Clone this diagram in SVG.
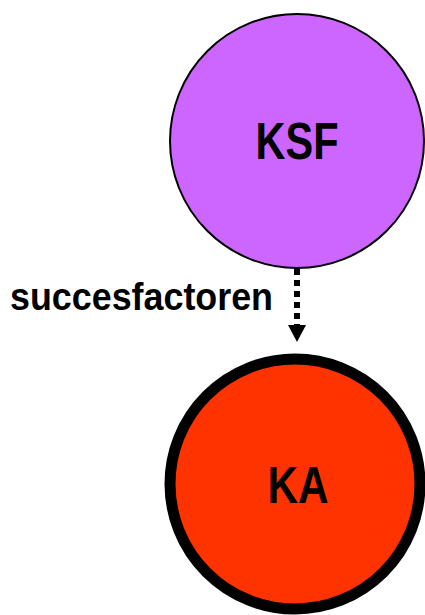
<svg xmlns="http://www.w3.org/2000/svg" width="425" height="615" viewBox="0 0 425 615">
  <style>
    .label { font-family: "Liberation Sans", Arial, sans-serif; font-weight: bold; fill: #000; }
    .node-text { font-family: "Liberation Sans", Arial, sans-serif; font-weight: bold; font-size: 52px; text-anchor: middle; fill: #000; }
  </style>

  <g id="connectors">
    <line x1="297" y1="269" x2="297" y2="326" stroke="#000" stroke-width="6" stroke-dasharray="6 5"/>
    <path d="M288,325 L306,325 L297,342 Z" fill="#000"/>
    <text class="label" x="10" y="310" font-size="38" textLength="263" lengthAdjust="spacingAndGlyphs">succesfactoren</text>
  </g>

  <g id="node-ksf">
    <circle cx="297" cy="141" r="127" fill="#cc66ff" stroke="#000" stroke-width="2"/>
    <text class="node-text" x="297" y="159" textLength="83" lengthAdjust="spacingAndGlyphs">KSF</text>
  </g>

  <g id="node-ka">
    <circle cx="295" cy="484" r="125" fill="#ff3300" stroke="#000" stroke-width="11"/>
    <text class="node-text" x="298" y="503" textLength="61" lengthAdjust="spacingAndGlyphs">KA</text>
  </g>
</svg>
